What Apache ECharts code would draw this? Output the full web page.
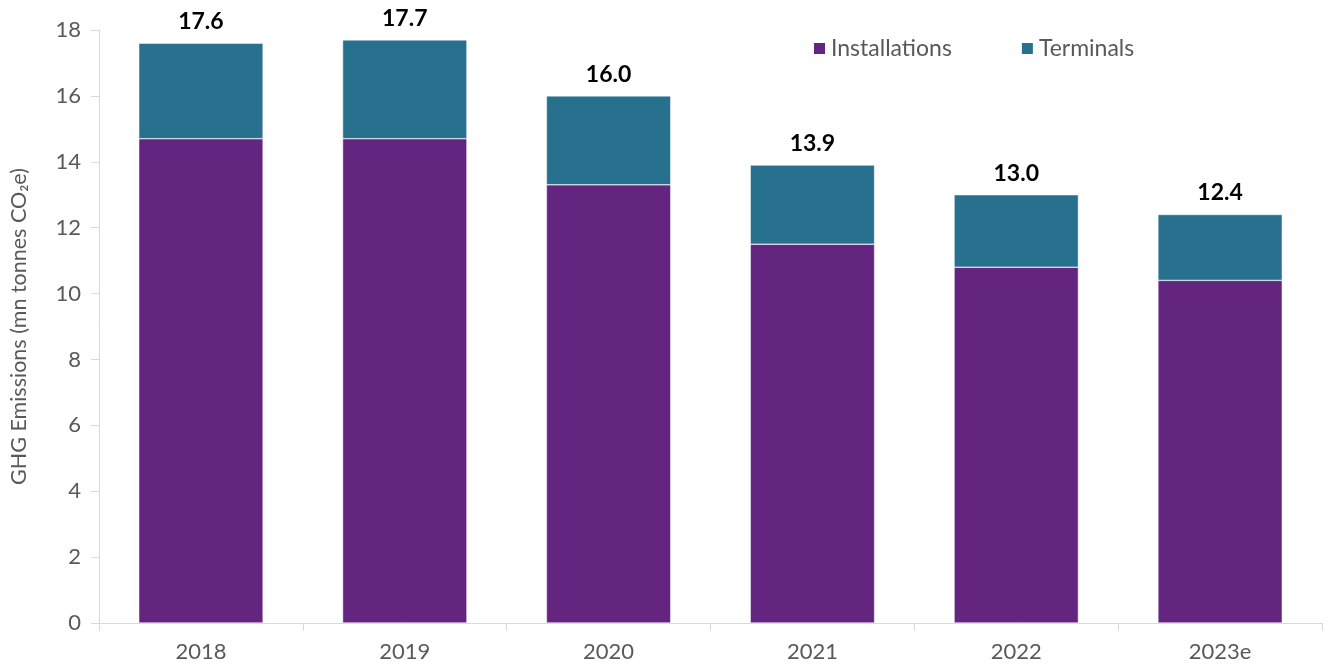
<!DOCTYPE html>
<html>
<head>
<meta charset="utf-8">
<script src="https://cdn.jsdelivr.net/npm/echarts@6/dist/echarts.min.js"></script>
<style>html,body{margin:0;padding:0;background:#fff;}#c{width:1329px;height:668px;}</style>
</head>
<body>
<div id="c"></div>
<script>
const categories = ['2018', '2019', '2020', '2021', '2022', '2023e'];
const installations = [14.7, 14.7, 13.3, 11.5, 10.8, 10.4];
const terminals = [2.9, 3.0, 2.7, 2.4, 2.2, 2.0];
const totals = ['17.6', '17.7', '16.0', '13.9', '13.0', '12.4'];
const yTicks = { min: 0, max: 18, interval: 2 };

const FONT = 'Lato, "Open Sans", sans-serif';
const chart = echarts.init(document.getElementById('c'));
chart.setOption({
  animation: false,
  textStyle: { fontFamily: FONT },
  grid: { left: 98, right: 7, top: 30, bottom: 45, containLabel: false },
  legend: {
    data: ['Installations', 'Terminals'],
    left: 807, top: 32,
    itemWidth: 13, itemHeight: 13, itemGap: 68,
    icon: 'rect',
    textStyle: { fontSize: 23, color: '#595959', fontFamily: FONT, padding: [0, 0, 0, 0] }
  },
  xAxis: {
    type: 'category',
    data: categories,
    axisLine: { lineStyle: { color: '#d9d9d9', width: 1 } },
    axisTick: { show: true, interval: 0, length: 8, lineStyle: { color: '#d9d9d9' } },
    axisLabel: { fontSize: 22, color: '#595959', margin: 18, fontFamily: FONT }
  },
  yAxis: {
    type: 'value',
    min: yTicks.min, max: yTicks.max, interval: yTicks.interval,
    name: 'GHG Emissions (mn tonnes CO₂e)',
    nameLocation: 'middle', nameGap: 69, nameRotate: 90,
    nameTextStyle: { fontSize: 21.5, color: '#595959', fontFamily: FONT },
    axisLine: { show: true, lineStyle: { color: '#d9d9d9', width: 1 } },
    axisTick: { show: true, length: 8, lineStyle: { color: '#d9d9d9' } },
    splitLine: { show: false },
    axisLabel: { fontSize: 22, color: '#595959', margin: 18, fontFamily: FONT }
  },
  series: [
    {
      name: 'Installations', type: 'bar', stack: 'total',
      data: installations, barCategoryGap: '39%',
      itemStyle: { color: '#642581', borderColor: '#ffffff', borderWidth: 0.5 }
    },
    {
      name: 'Terminals', type: 'bar', stack: 'total',
      data: terminals, barCategoryGap: '39%',
      itemStyle: { color: '#27718f', borderColor: '#ffffff', borderWidth: 0.5 },
      label: {
        show: true, position: 'top', distance: 10,
        formatter: p => totals[p.dataIndex],
        fontSize: 23, fontWeight: 'bold', color: '#000', fontFamily: FONT
      }
    }
  ]
});
</script>
</body>
</html>
